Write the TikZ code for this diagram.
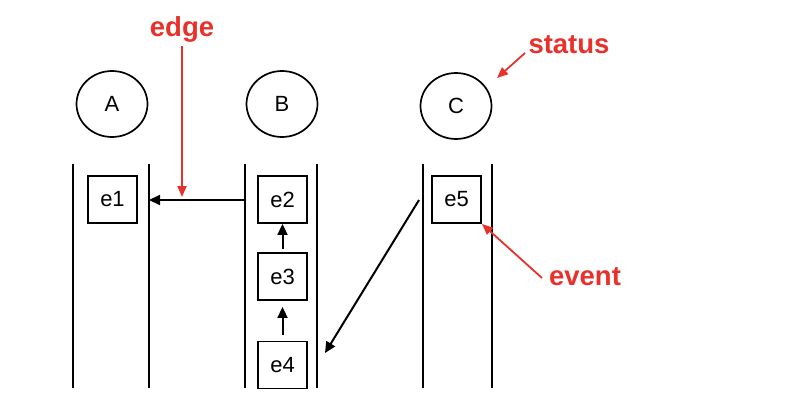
\documentclass[tikz,border=0pt]{standalone}
\usepackage{fontspec}
\setmainfont{Liberation Sans}
\usetikzlibrary{arrows.meta,shapes.geometric}
\definecolor{ared}{HTML}{E8312A}
\begin{document}
\begin{tikzpicture}[x=1pt,y=-1pt,
  lane/.style={line width=2pt},
  proc/.style={draw,line width=1.7pt,ellipse,minimum width=71pt,minimum height=66pt,inner sep=0pt,font=\fontsize{22}{22}\selectfont},
  ev/.style={draw,line width=1.9pt,minimum width=49pt,minimum height=47pt,inner sep=0pt,font=\fontsize{22}{22}\selectfont},
  conn/.style={line width=2pt,-{Triangle[length=11pt,width=10pt]}},
  note/.style={text=ared,font=\bfseries\fontsize{27.5}{27.5}\selectfont,inner sep=0pt},
  noteline/.style={draw=ared,line width=1.8pt,-{Triangle[length=11pt,width=9pt]}}]
\useasboundingbox (0,0) rectangle (810,412);
% processes
\node[proc] (A) at (112,104) {A};
\node[proc] (B) at (282,104) {B};
\node[proc] (C) at (456,106) {C};
% lanes
\foreach \n/\x in {a1/73,a2/149,b1/245,b2/317,c1/423,c2/492}{
  \coordinate (\n t) at (\x,164);
  \coordinate (\n b) at (\x,388);
  \draw[lane] (\n t) -- (\n b);
}
% events
\node[ev] (e1) at (112.5,199.5) {e1};
\node[ev] (e2) at (282.5,199.5) {e2};
\node[ev] (e3) at (282.5,276.5) {e3};
\node[ev] (e4) at (282.5,365) {e4};
\node[ev] (e5) at (456.5,199.5) {e5};
% connectors
\coordinate (s1) at (245,200);
\coordinate (t1) at (149,200);
\draw[conn] (s1) -- (t1);
\draw[conn] ([yshift=3pt]e3.north) -- (e2.south);
\draw[conn] ([yshift=6pt]e4.north) -- ([yshift=-6pt]e3.south);
\coordinate (s2) at (419,200);
\coordinate (t2) at (325,353);
\draw[conn] (s2) -- (t2);
% annotations
\node[note] (edge) at (182,29) {edge};
\coordinate (edget) at (182,197);
\draw[noteline] ([yshift=-4pt]edge.south) -- (edget);
\node[note] (status) at (569,45) {status};
\coordinate (statt) at (497,78);
\coordinate (stats) at (525,53);
\draw[noteline] (stats) -- (statt);
\node[note] (event) at (585,277) {event};
\coordinate (evs) at (542,278);
\draw[noteline] (evs) -- (e5.south east);
\end{tikzpicture}
\end{document}
